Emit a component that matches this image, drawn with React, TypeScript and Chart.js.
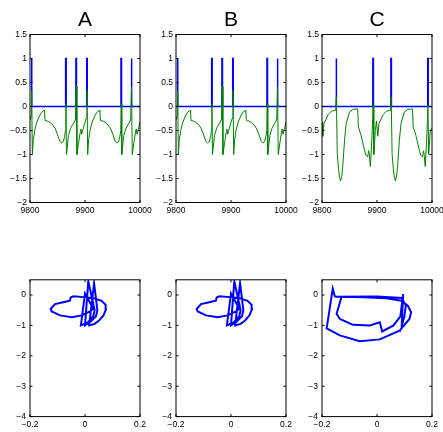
import React, { useEffect, useRef } from 'react';
import { Chart, registerables } from 'chart.js';

Chart.register(...registerables);

// ---------- data ----------
const panelTitles = ['A', 'B', 'C'];

// spike (blue) event times
const spikeTimesA = [9803, 9865.3, 9884, 9903.6, 9965.9, 9984.6];
const spikeTimesB = [9803, 9865.3, 9884, 9903.6, 9965.9, 9984.6];
const spikeTimesC = [9826, 9893, 9925.7, 9992.7];

// green trace A (and B)
const greenTimeA = [
  9800, 9802, 9803, 9804.3, 9806, 9809, 9812, 9817, 9821, 9825.5, 9826.5, 9827.3, 9833.3, 9839.4, 9845.5,
  9850.3, 9854.5, 9857.6, 9860.6, 9863, 9864.5, 9865.3, 9866.3, 9870, 9874, 9879, 9882.5, 9884, 9885.3,
  9888.5, 9891, 9892.5, 9894, 9897, 9902, 9903.6,
  9904.9, 9906.6, 9909.6, 9912.6, 9917.6, 9921.6, 9926, 9927, 9928, 9934, 9940, 9946, 9951, 9955, 9958,
  9961, 9963.5, 9965, 9965.9, 9966.9, 9970.6, 9974.6, 9979.6, 9983, 9984.6, 9985.9, 9989, 9991.6, 9993,
  9994.6, 9997.6, 10000,
];
const greenValueA = [
  -0.28, -0.2, 0.33, -1.0, -0.69, -0.48, -0.34, -0.2, -0.12, -0.08, -0.1, -0.29, -0.31, -0.36, -0.45,
  -0.59, -0.73, -0.76, -0.73, -0.62, -0.5, 0.06, -1.0, -0.6, -0.45, -0.35, -0.28, 0.41, -1.0,
  -0.75, -0.55, -0.47, -0.58, -0.45, -0.25, 0.33,
  -1.0, -0.69, -0.48, -0.34, -0.2, -0.12, -0.08, -0.1, -0.29, -0.31, -0.36, -0.45, -0.59, -0.73, -0.76,
  -0.73, -0.62, -0.5, 0.06, -1.0, -0.6, -0.45, -0.35, -0.28, 0.41, -1.0, -0.75, -0.55, -0.47,
  -0.58, -0.45, -0.32,
];
const greenTimeB = greenTimeA;
const greenValueB = greenValueA;

// green trace C
const greenTimeC = [
  9800, 9801.5, 9803.5, 9806, 9811, 9817, 9823, 9825, 9826, 9827.8, 9830, 9832, 9833.8, 9836, 9838, 9841,
  9844, 9850, 9856, 9865, 9866, 9871, 9877, 9880, 9883, 9885, 9886, 9888, 9891, 9893, 9894.2, 9897, 9899,
  9901.5, 9903.5,
  9906, 9911, 9917, 9923, 9924.8, 9925.7, 9927.5, 9929.7, 9931.7, 9933.5, 9935.7, 9937.7, 9940.7, 9943.7,
  9949.7, 9955.7, 9964.7, 9965.7, 9970.7, 9976.7, 9979.7, 9982.7, 9984.7, 9985.7, 9987.7, 9990.7, 9992.7,
  9993.9, 9997, 10000,
];
const greenValueC = [
  -0.33, -0.62, -0.36, -0.3, -0.17, -0.1, -0.08, -0.08, 0.2, -1.0, -1.3, -1.48, -1.55, -1.45, -1.2, -0.7,
  -0.35, -0.12, -0.06, -0.05, -0.42, -0.6, -0.9, -1.02, -1.05, -0.92, -1.0, -1.25, -0.6, 0.03, -1.0, -0.5, -0.3,
  -0.62, -0.36,
  -0.3, -0.17, -0.1, -0.08, -0.08, 0.2, -1.0, -1.3, -1.48, -1.55, -1.45, -1.2, -0.7, -0.35,
  -0.12, -0.06, -0.05, -0.42, -0.6, -0.9, -1.02, -1.05, -0.92, -1.0, -1.25, -0.6, 0.03,
  -1.0, -0.5, -0.45,
];

// phase loops
const loopAX = [
  -0.042, -0.052, -0.055, -0.079, -0.109, -0.125, -0.121, -0.091, -0.048, -0.012, 0.018, 0.03, 0.0, -0.015,
  0.01, 0.03, 0.035, 0.012, 0.0, 0.02, 0.04, 0.045, 0.033, 0.015, 0.035, 0.05, 0.067, 0.076, 0.075, 0.06,
  0.03, -0.006, -0.042,
];
const loopAY = [
  -0.04, -0.08, -0.19, -0.24, -0.3, -0.46, -0.54, -0.67, -0.73, -0.67, -0.54, -0.45, 0.05, -1.0,
  -0.9, -0.7, -0.5, 0.45, -1.0, -0.88, -0.7, -0.5, 0.39, -1.0, -0.95, -0.85, -0.67, -0.48, -0.32, -0.19,
  -0.1, -0.07, -0.04,
];
const loopBX = loopAX;
const loopBY = loopAY;
const loopCX = [
  -0.153, -0.161, -0.183, -0.135, -0.063, 0.01, 0.082, 0.118, 0.124, 0.112, 0.088, 0.034, -0.05, -0.129,
  -0.147, -0.135, -0.087, -0.026, 0.01, 0.019, 0.06, 0.085, 0.095, 0.09, 0.1, 0.1, 0.105, 0.09, 0.0, -0.153,
];
const loopCY = [
  -0.06, 0.21, -1.1, -1.33, -1.52, -1.46, -1.17, -0.79, -0.57, -0.35, -0.19, -0.11, -0.07, -0.06,
  -0.62, -0.79, -0.98, -1.0, -0.9, -1.2, -1.0, -0.7, 0.03, -1.0, -0.7, -0.65, -0.35, -0.1, -0.05, -0.06,
];

// axis ranges / ticks
const timeRange = [9800, 10000];
const timeStep = 100;
const traceRange = [-2, 1.5];
const traceStep = 0.5;
const phaseXRange = [-0.2, 0.2];
const phaseXStep = 0.2;
const phaseYRange = [-4, 0.5];
const phaseYStep = 1;

// ---------- helpers ----------
const FONT = "'Liberation Sans', Arial, Helvetica, sans-serif";
const fmt = (v: number) => String(Number(Number(v).toFixed(3))).replace('-', '\u2212');

const boxPlugin = {
  id: 'matlabBox',
  afterDatasetsDraw(chart: any) {
    const { ctx, chartArea: a, scales } = chart;
    ctx.save();
    ctx.strokeStyle = '#000';
    ctx.lineWidth = 1;
    ctx.strokeRect(a.left, a.top, a.right - a.left, a.bottom - a.top);
    const tl = 2.5;
    ctx.beginPath();
    scales.x.ticks.forEach((t: any) => {
      const p = scales.x.getPixelForValue(t.value);
      ctx.moveTo(p, a.bottom);
      ctx.lineTo(p, a.bottom - tl);
      ctx.moveTo(p, a.top);
      ctx.lineTo(p, a.top + tl);
    });
    scales.y.ticks.forEach((t: any) => {
      const p = scales.y.getPixelForValue(t.value);
      ctx.moveTo(a.left, p);
      ctx.lineTo(a.left + tl, p);
      ctx.moveTo(a.right, p);
      ctx.lineTo(a.right - tl, p);
    });
    ctx.stroke();
    ctx.restore();
  },
};

function spikeTrain(times: number[]) {
  const pts: { x: number; y: number }[] = [{ x: timeRange[0], y: 0 }];
  times.forEach((t) => {
    pts.push({ x: t - 0.5, y: 0 }, { x: t - 0.5, y: 1 }, { x: t + 0.5, y: 1 }, { x: t + 0.5, y: 0 });
  });
  pts.push({ x: timeRange[1], y: 0 });
  return pts;
}

function pairs(xs: number[], ys: number[]) {
  return xs.map((x, i) => ({ x, y: ys[i] }));
}

function axisCommon(min: number, max: number, step: number, pad: number, fit: (s: any) => void) {
  return {
    type: 'linear' as const,
    min,
    max,
    grid: { display: false, drawTicks: false },
    border: { display: false },
    ticks: {
      stepSize: step,
      includeBounds: false,
      autoSkip: false,
      maxRotation: 0,
      padding: pad,
      color: '#000',
      font: { family: FONT, size: 8.5 },
      callback: (v: any) => fmt(v),
    },
    afterFit: fit,
  };
}

function timeChart(canvas: HTMLCanvasElement, title: string, gt: number[], gv: number[], spikes: number[]) {
  return new Chart(canvas, {
    type: 'scatter',
    data: {
      datasets: [
        {
          data: pairs(gt, gv),
          showLine: true,
          borderColor: '#008000',
          borderWidth: 1,
          pointRadius: 0,
        },
        {
          data: spikeTrain(spikes),
          showLine: true,
          borderColor: '#0000ff',
          borderWidth: 1.5,
          pointRadius: 0,
        },
      ],
    },
    options: {
      animation: false,
      responsive: false,
      devicePixelRatio: 1,
      layout: { padding: { left: 0, right: 20, top: 0, bottom: 0 } },
      plugins: {
        legend: { display: false },
        tooltip: { enabled: false },
        title: {
          display: true,
          text: title,
          fullSize: false,
          color: '#000',
          font: { family: FONT, size: 21, weight: 'normal', lineHeight: 1 },
          padding: { top: 10, bottom: 3.5 },
        },
      },
      scales: {
        x: axisCommon(timeRange[0], timeRange[1], timeStep, 3, (s) => { s.height = 17.5; }),
        y: axisCommon(traceRange[0], traceRange[1], traceStep, 3, (s) => { s.width = 30; }),
      },
    },
    plugins: [boxPlugin],
  } as any);
}

function loopChart(canvas: HTMLCanvasElement, xs: number[], ys: number[]) {
  return new Chart(canvas, {
    type: 'scatter',
    data: {
      datasets: [
        {
          data: pairs(xs, ys),
          showLine: true,
          borderColor: '#0000ff',
          borderWidth: 2,
          pointRadius: 0,
        },
      ],
    },
    options: {
      animation: false,
      responsive: false,
      devicePixelRatio: 1,
      layout: { padding: { left: 0, right: 20, top: 19.8, bottom: 0 } },
      plugins: { legend: { display: false }, tooltip: { enabled: false }, title: { display: false } },
      scales: {
        x: axisCommon(phaseXRange[0], phaseXRange[1], phaseXStep, 3.3, (s) => { s.height = 15.4; }),
        y: axisCommon(phaseYRange[0], phaseYRange[1], phaseYStep, 4, (s) => { s.width = 30; }),
      },
    },
    plugins: [boxPlugin],
  } as any);
}

const colLefts = [0, 146, 292];

export default function App() {
  const topRefs = [useRef<HTMLCanvasElement>(null), useRef<HTMLCanvasElement>(null), useRef<HTMLCanvasElement>(null)];
  const botRefs = [useRef<HTMLCanvasElement>(null), useRef<HTMLCanvasElement>(null), useRef<HTMLCanvasElement>(null)];

  useEffect(() => {
    const traces = [
      [greenTimeA, greenValueA, spikeTimesA],
      [greenTimeB, greenValueB, spikeTimesB],
      [greenTimeC, greenValueC, spikeTimesC],
    ];
    const loops = [
      [loopAX, loopAY],
      [loopBX, loopBY],
      [loopCX, loopCY],
    ];
    const charts: Chart[] = [];
    for (let i = 0; i < 3; i++) {
      charts.push(timeChart(topRefs[i].current!, panelTitles[i], traces[i][0], traces[i][1], traces[i][2]));
      charts.push(loopChart(botRefs[i].current!, loops[i][0], loops[i][1]));
    }
    return () => charts.forEach((c) => c.destroy());
  }, []);

  return (
    <div
      style={{
        position: 'absolute',
        left: 0,
        top: 0,
        width: 443,
        height: 432,
        overflow: 'hidden',
        background: '#fff',
      }}
    >
      {colLefts.map((l, i) => (
        <canvas
          key={'t' + i}
          ref={topRefs[i]}
          width={160}
          height={220}
          style={{ position: 'absolute', left: l, top: 0, width: 160, height: 220 }}
        />
      ))}
      {colLefts.map((l, i) => (
        <canvas
          key={'b' + i}
          ref={botRefs[i]}
          width={160}
          height={172}
          style={{ position: 'absolute', left: l, top: 260, width: 160, height: 172 }}
        />
      ))}
    </div>
  );
}
